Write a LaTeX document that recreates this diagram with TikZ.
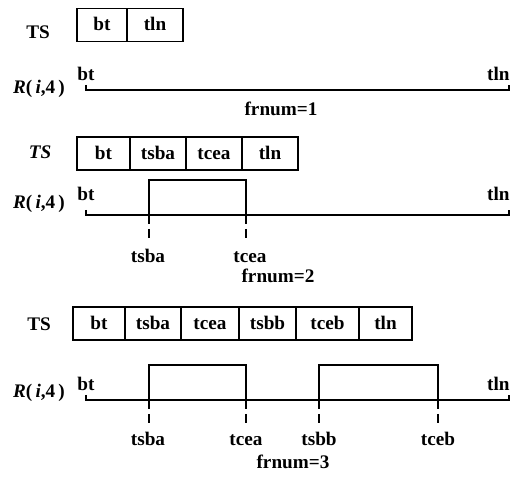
\documentclass[tikz,border=0pt]{standalone}
\usepackage{fontspec}
\setmainfont{Liberation Serif}
\usepackage{tikz}
\usetikzlibrary{positioning}

\begin{document}
\begin{tikzpicture}
[
  x = 0.5pt, y = -0.5pt,
  every node/.style = {font=\fontsize{9.6}{11}\selectfont\bfseries,
                       text height=1.6ex, text depth=0.3ex},
  cell/.style   = {draw, line width=0.7pt, minimum height=16.5pt,
                   minimum width=#1*0.5pt, inner sep=0pt, outer sep=0pt},
  axis/.style   = {draw, line width=0.7pt},
  tick/.style   = {draw, line width=0.6pt, dash pattern=on 4.5pt off 2.5pt},
  rlabel/.style = {anchor=center},
  endlabel/.style = {anchor=east, inner sep=0pt}
]
\useasboundingbox (0,0) rectangle (510,481);

% frnum = 1
\node (ts1) at (38,33) {TS};
\node [cell=50, anchor=west] (c1bt) at (77,25) {bt};
\node [cell=56, right=0pt of c1bt] (c1tln) {tln};

\node [rlabel] (r1) at (39,88) {\textit{R}(\,\textit{i},4\,)};
\coordinate (a1s) at (86,90);
\coordinate (a1e) at (509,90);
\draw [axis] (a1s) ++(0,-5) -- (a1s) -- (a1e) -- ++(0,-5);
\node (bt1) at (86,75) {bt};
\node [endlabel] (tln1) at (510,75) {tln};
\node (fr1) at (281,110) {frnum=1};

% frnum = 2
\node (ts2) at (40,153) {\textit{TS}};
\node [cell=53, anchor=west] (c2bt) at (77,153.5) {bt};
\node [cell=56, right=0pt of c2bt]   (c2tsba) {tsba};
\node [cell=56, right=0pt of c2tsba] (c2tcea) {tcea};
\node [cell=56, right=0pt of c2tcea] (c2tln)  {tln};

\node [rlabel] (r2) at (39,203) {\textit{R}(\,\textit{i},4\,)};
\coordinate (a2s) at (86,215);
\coordinate (a2e) at (509,215);
\coordinate (p2a) at (149,215);
\coordinate (p2b) at (246,215);
\draw [axis] (a2s) ++(0,-5) -- (a2s) -- (a2e) -- ++(0,-5);
\draw [axis] (p2a) -- ++(0,-35) -| (p2b);
\draw [tick] (p2a) -- ++(0,27);
\draw [tick] (p2b) -- ++(0,27);
\node (bt2) at (86,195) {bt};
\node [endlabel] (tln2) at (510,195) {tln};
\node (l2tsba) at (148,257) {tsba};
\node (l2tcea) at (250,257) {tcea};
\node (fr2) at (278,277) {frnum=2};

% frnum = 3
\node (ts3) at (39,325) {TS};
\node [cell=52, anchor=west] (c3bt) at (73,323.5) {bt};
\node [cell=56, right=0pt of c3bt]   (c3tsba) {tsba};
\node [cell=58, right=0pt of c3tsba] (c3tcea) {tcea};
\node [cell=57, right=0pt of c3tcea] (c3tsbb) {tsbb};
\node [cell=63, right=0pt of c3tsbb] (c3tceb) {tceb};
\node [cell=53, right=0pt of c3tceb] (c3tln)  {tln};

\node [rlabel] (r3) at (39,392) {\textit{R}(\,\textit{i},4\,)};
\coordinate (a3s) at (86,400);
\coordinate (a3e) at (509,400);
\coordinate (p3a) at (149,400);
\coordinate (p3b) at (246,400);
\coordinate (p3c) at (319,400);
\coordinate (p3d) at (438,400);
\draw [axis] (a3s) ++(0,-5) -- (a3s) -- (a3e) -- ++(0,-5);
\draw [axis] (p3a) -- ++(0,-35) -| (p3b);
\draw [axis] (p3c) -- ++(0,-35) -| (p3d);
\foreach \p in {p3a,p3b,p3c,p3d}
  \draw [tick] (\p) -- ++(0,28);
\node (bt3) at (86,385) {bt};
\node [endlabel] (tln3) at (510,385) {tln};
\node (l3tsba) at (148,440) {tsba};
\node (l3tcea) at (246,440) {tcea};
\node (l3tsbb) at (319,440) {tsbb};
\node (l3tceb) at (438,440) {tceb};
\node (fr3) at (293,463) {frnum=3};
\end{tikzpicture}
\end{document}
